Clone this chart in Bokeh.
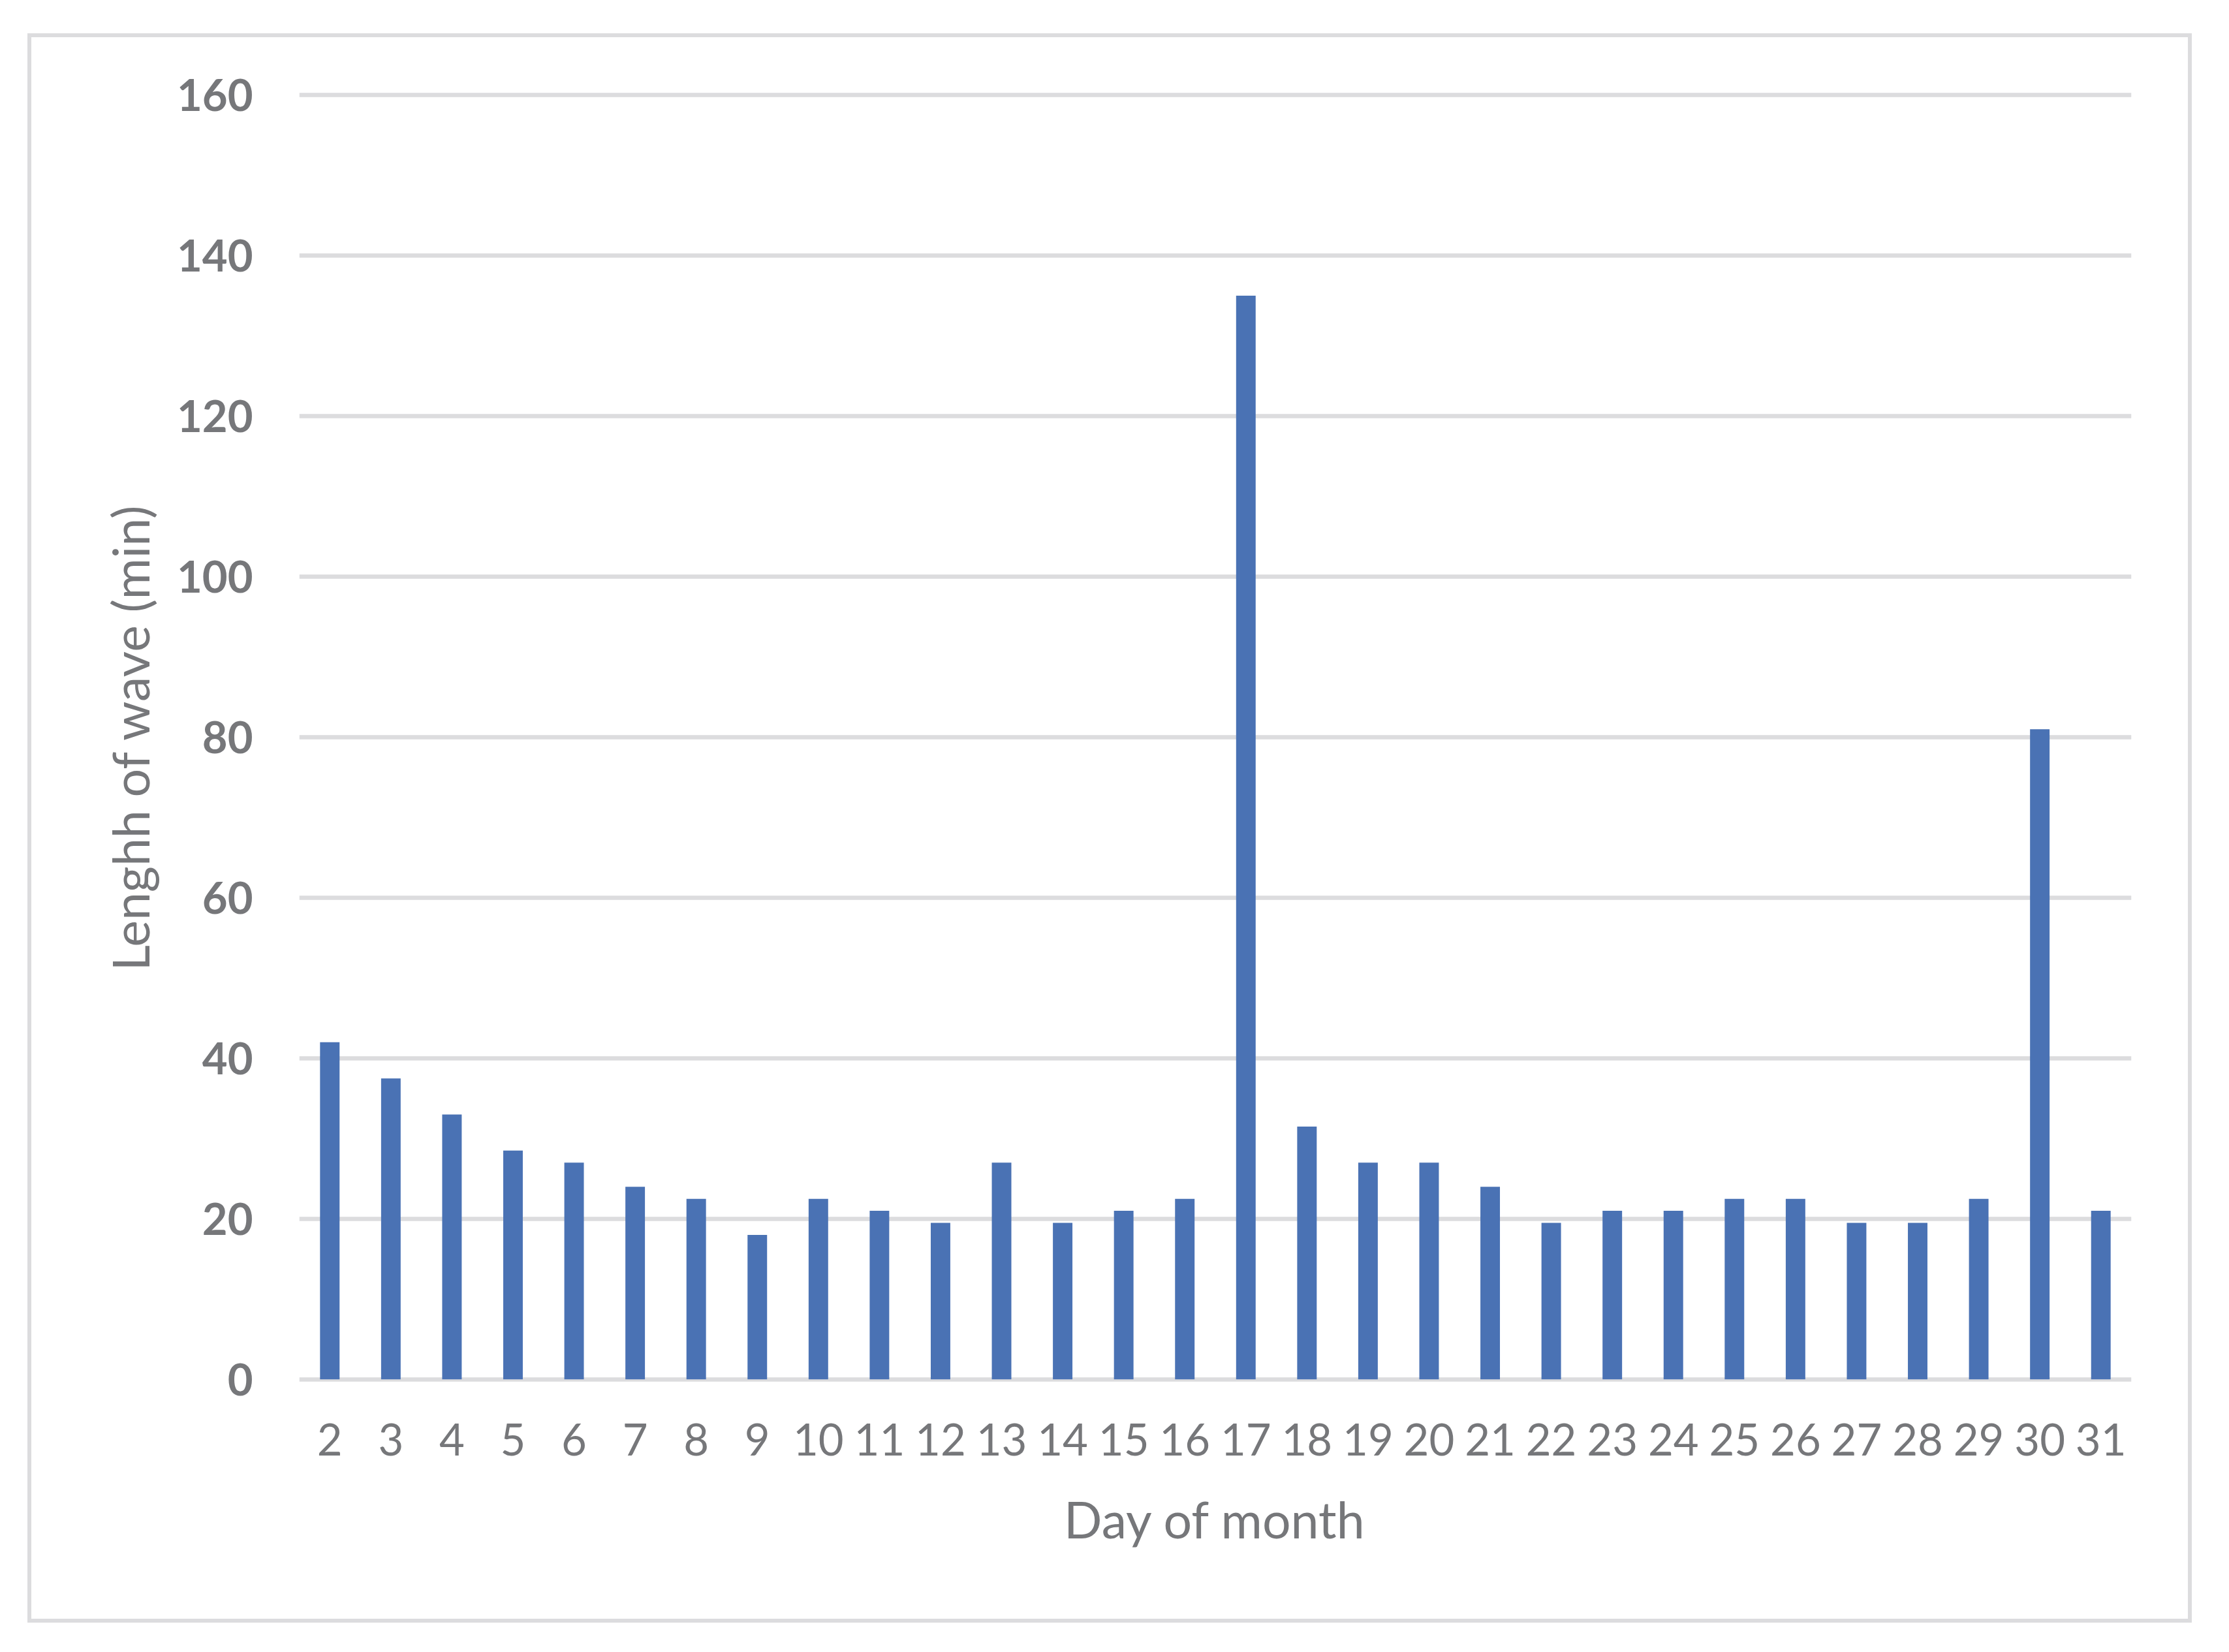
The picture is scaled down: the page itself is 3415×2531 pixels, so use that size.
from bokeh.plotting import figure
from bokeh.models import FixedTicker, Range1d, FactorRange, InlineStyleSheet
from bokeh.embed import file_html
from bokeh.resources import INLINE

days = [str(d) for d in range(2, 32)]
wave_minutes = [42, 37.5, 33, 28.5, 27, 24, 22.5, 18, 22.5, 21, 19.5, 27, 19.5, 21, 22.5,
                135, 31.5, 27, 27, 24, 19.5, 21, 21, 22.5, 22.5, 19.5, 19.5, 22.5, 81, 21]
y_ticks = [0, 20, 40, 60, 80, 100, 120, 140, 160]

FONT = "Lato"
GRAY = "#76777a"
GRID = "#dcdcde"
BLUE = "#4a72b4"

p = figure(
    x_range=FactorRange(*days, range_padding=0),
    y_range=Range1d(-0.5, 160.5),
    width=3399, height=2515,
    min_border_left=458, min_border_right=134,
    min_border_top=139, min_border_bottom=396,
    output_backend="svg", toolbar_location=None,
)
p.outline_line_color = None
p.background_fill_color = "white"
p.border_fill_color = "white"

p.vbar(x=days, top=wave_minutes, bottom=0, width=0.32, color=BLUE, line_color=None)

p.xgrid.grid_line_color = None
p.ygrid.grid_line_color = GRID
p.ygrid.grid_line_width = 6.5
p.yaxis.ticker = FixedTicker(ticks=y_ticks)

for ax in (p.xaxis[0], p.yaxis[0]):
    ax.axis_line_color = None
    ax.major_tick_line_color = None
    ax.minor_tick_line_color = None
    ax.major_tick_out = 0
    ax.major_tick_in = 0
    ax.major_label_text_font = FONT
    ax.major_label_text_color = GRAY
    ax.axis_label_text_font = FONT
    ax.axis_label_text_color = GRAY
    ax.axis_label_text_font_style = "normal"

p.yaxis.major_label_text_font_style = "bold"
p.yaxis.major_label_text_font_size = "67px"
p.yaxis.major_label_standoff = 71
p.yaxis.axis_label = "Lenghh of wave (min)"
p.yaxis.axis_label_text_font_size = "77px"
p.yaxis.axis_label_standoff = 23

p.xaxis.major_label_text_font_size = "67px"
p.xaxis.major_label_standoff = 61
p.xaxis.axis_label = "Day of month"
p.xaxis.axis_label_text_font_size = "77px"
p.xaxis.axis_label_standoff = 48

css = """
:host { position: relative; }
:host::after {
  content: "";
  position: absolute;
  left: 41.6px; top: 50.6px;
  width: 3316px; height: 2435px;
  box-sizing: border-box;
  border: 6px solid #dcdcde;
  pointer-events: none;
}
"""
p.stylesheets = [InlineStyleSheet(css=css)]

open("out.html", "w").write(file_html(p, INLINE))
